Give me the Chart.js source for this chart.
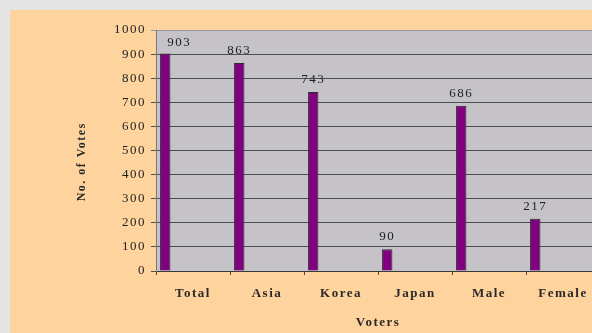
<!DOCTYPE html>
<html>
<head>
<meta charset="utf-8">
<script src="https://cdn.jsdelivr.net/npm/chart.js@4/dist/chart.umd.min.js"></script>
<style>
  html, body { margin: 0; padding: 0; background: #e4e4e4; overflow: hidden; }
  #wrap { position: absolute; left: 10px; top: 10px; width: 600px; height: 323px; background: #ffd39d; }
</style>
</head>
<body>
<div id="wrap"><canvas id="chart" width="600" height="323"></canvas></div>
<script>
const categories = ['Total', 'Asia', 'Korea', 'Japan', 'Male', 'Female'];
const votes = [903, 863, 743, 90, 686, 217];
const yTicks = [0, 100, 200, 300, 400, 500, 600, 700, 800, 900, 1000];

// grey plot background + wide letter spacing for all text
const plotBg = {
    id: 'plotBg',
    beforeDraw(chart) {
        const { ctx, chartArea: a } = chart;
        ctx.letterSpacing = '1.5px';
        ctx.save();
        ctx.fillStyle = '#c5c3c7';
        ctx.fillRect(a.left, a.top, a.right - a.left, a.bottom - a.top);
        ctx.restore();
    },
    afterDraw(chart) {
        chart.ctx.letterSpacing = '0px';
    }
};

// value printed above each bar
const valueLabels = {
    id: 'valueLabels',
    afterDatasetsDraw(chart) {
        const { ctx, chartArea: a } = chart;
        const meta = chart.getDatasetMeta(0);
        ctx.save();
        ctx.font = '13px "Liberation Serif", serif';
        ctx.fillStyle = '#1e1e1e';
        ctx.textAlign = 'center';
        ctx.textBaseline = 'bottom';
        meta.data.forEach((bar, i) => {
            let x = bar.x;
            let y = bar.y - 6;
            if (y - 13 < a.top + 8) {   // too close to the top, push it aside
                x += 14;
                y = bar.y - 4;
            }
            ctx.fillText(String(votes[i]), x, y);
        });
        ctx.restore();
    }
};

const spacer = () => ({ data: [], borderWidth: 0, backgroundColor: 'transparent', categoryPercentage: 1 });

new Chart(document.getElementById('chart'), {
    type: 'bar',
    data: {
        labels: categories,
        datasets: [
            {
                data: votes,
                backgroundColor: '#800080',
                borderColor: '#2a2a2a',
                borderWidth: 1,
                borderSkipped: 'bottom',
                barPercentage: 0.56,
                categoryPercentage: 1
            },
            spacer(),
            spacer(),
            spacer()
        ]
    },
    options: {
        responsive: false,
        animation: false,
        layout: { padding: { left: 0, top: 20, right: 10, bottom: 0 } },
        plugins: {
            legend: { display: false },
            tooltip: { enabled: false }
        },
        scales: {
            x: {
                afterFit(scale) { scale.height = 62; },
                grid: {
                    drawOnChartArea: false,
                    drawTicks: true,
                    tickLength: 4,
                    color: '#4a4a4a'
                },
                border: { color: '#3a3a3a', width: 1 },
                ticks: {
                    padding: 11,
                    color: '#2a2a2a',
                    font: { family: '"Liberation Serif", serif', size: 13, weight: 'bold' }
                },
                title: {
                    display: true,
                    text: 'Voters',
                    color: '#2a2a2a',
                    padding: { top: 0, bottom: 3 },
                    font: { family: '"Liberation Serif", serif', size: 13, weight: 'bold' }
                }
            },
            y: {
                min: 0,
                max: 1000,
                afterFit(scale) { scale.width = 146; },
                afterBuildTicks(scale) { scale.ticks = yTicks.map(v => ({ value: v })); },
                grid: {
                    tickLength: 5,
                    color: ctx => (ctx.tick && ctx.tick.value === 1000) ? '#9a9a9a' : '#4f4f4f'
                },
                border: { color: '#7a7a7a', width: 1 },
                ticks: {
                    padding: 5,
                    color: '#1e1e1e',
                    callback: v => String(v),
                    font: { family: '"Liberation Serif", serif', size: 13 }
                },
                title: {
                    display: true,
                    text: 'No. of Votes     ',
                    color: '#2a2a2a',
                    padding: { top: 65, bottom: 0 },
                    font: { family: '"Liberation Serif", serif', size: 12, weight: 'bold' }
                }
            }
        }
    },
    plugins: [plotBg, valueLabels]
});
</script>
</body>
</html>
